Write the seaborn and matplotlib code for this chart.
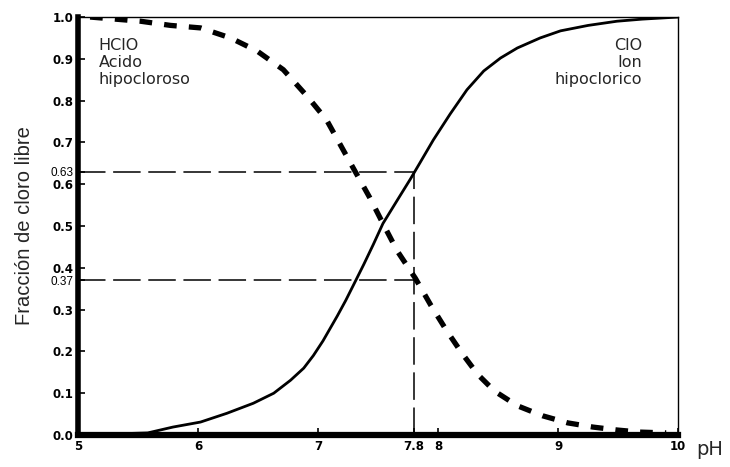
import numpy as np
import pandas as pd
import matplotlib
matplotlib.use("Agg")
import matplotlib.pyplot as plt
import seaborn as sns

# valores (pH vs fraccion de cloro libre)
# ClO- ion hipoclorico (linea continua)
ph_clo = [5.0, 5.58, 5.79, 6.02, 6.24, 6.46, 6.63, 6.77, 6.88, 6.96, 7.04, 7.1, 7.16,
          7.23, 7.3, 7.38, 7.46, 7.54, 7.66, 7.77, 7.85, 7.96, 8.1, 8.24, 8.38, 8.52,
          8.66, 8.85, 9.02, 9.25, 9.49, 9.7, 9.88, 10.0]
frac_clo = [0.0, 0.005, 0.019, 0.031, 0.052, 0.076, 0.10, 0.131, 0.16, 0.19, 0.225,
            0.255, 0.285, 0.322, 0.362, 0.408, 0.456, 0.506, 0.562, 0.613, 0.652,
            0.706, 0.768, 0.826, 0.871, 0.902, 0.926, 0.95, 0.967, 0.98, 0.99, 0.995,
            0.998, 1.0]

# HClO acido hipocloroso (linea discontinua)
ph_hclo = [5.1, 5.52, 5.77, 6.02, 6.27, 6.49, 6.71, 6.91, 7.07, 7.18, 7.29, 7.43,
           7.54, 7.66, 7.81, 7.94, 8.07, 8.2, 8.33, 8.47, 8.66, 8.87, 9.08, 9.29,
           9.49, 9.68, 9.9]
frac_hclo = [1.0, 0.99, 0.98, 0.974, 0.95, 0.919, 0.874, 0.81, 0.754, 0.697, 0.64,
             0.568, 0.506, 0.44, 0.375, 0.31, 0.25, 0.195, 0.145, 0.105, 0.07, 0.046,
             0.029, 0.019, 0.012, 0.007, 0.005]

ph_ref = 7.8
frac_ref = [0.63, 0.37]

x_ticks = [5, 6, 7, 7.8, 8, 9, 10]
x_labels = ["5", "6", "7", "7.8", "8", "9", "10"]
y_ticks = [0.0, 0.1, 0.2, 0.3, 0.37, 0.4, 0.5, 0.6, 0.63, 0.7, 0.8, 0.9, 1.0]
y_labels = ["0.0", "0.1", "0.2", "0.3", "0.37", "0.4", "0.5", "0.6", "0.63", "0.7",
            "0.8", "0.9", "1.0"]

df_clo = pd.DataFrame({"pH": ph_clo, "frac": frac_clo})
df_hclo = pd.DataFrame({"pH": ph_hclo, "frac": frac_hclo})

sns.set_style("ticks")
plt.rcParams["font.family"] = ["DejaVu Sans"]

fig = plt.figure(figsize=(7.3, 4.67), dpi=100)
ax = fig.add_axes([0.107, 0.0685, 0.822, 0.895])

# curvas
sns.lineplot(data=df_clo, x="pH", y="frac", ax=ax, color="black", linewidth=2.0)
sns.lineplot(data=df_hclo, x="pH", y="frac", ax=ax, color="black", linewidth=3.8,
             linestyle=(0, (2.4, 2.3)), dash_capstyle="butt")

# lineas de referencia en pH 7.8
for f in frac_ref:
    ax.plot([5, ph_ref], [f, f], color="black", linewidth=1.1, dashes=[18, 5])
ax.plot([ph_ref, ph_ref], [0, frac_ref[0]], color="black", linewidth=1.1, dashes=[18, 5])

ax.set_xlim(5, 10)
ax.set_ylim(0, 1.0)
ax.set_xticks(x_ticks)
ax.set_xticklabels(x_labels)
ax.set_yticks(y_ticks)
ax.set_yticklabels(y_labels)
ax.tick_params(direction="in", length=5, width=1.2, labelsize=8.5, colors="black")
for lab in ax.get_xticklabels() + ax.get_yticklabels():
    if lab.get_text() in ("0.63", "0.37"):
        lab.set_fontsize(8.5)
        lab.set_fontfamily("Liberation Sans")
    else:
        lab.set_fontweight("bold")
ax.set_xlabel("")
ax.set_ylabel("Fracción de cloro libre", fontsize=14.5, family="Liberation Sans",
              labelpad=12)

ax.spines["left"].set_linewidth(4)
ax.spines["bottom"].set_linewidth(4.5)
ax.spines["top"].set_linewidth(1.0)
ax.spines["right"].set_linewidth(1.0)
for s in ax.spines.values():
    s.set_color("black")

ax.text(10.15, -0.035, "pH", fontsize=14, ha="left", va="center")

ax.text(5.17, 0.95, "HClO\nAcido\nhipocloroso", fontsize=11.5, ha="left", va="top",
        linespacing=1.15)
ax.text(9.7, 0.95, "ClO\nIon\nhipoclorico", fontsize=11.5, ha="right", va="top",
        multialignment="right", linespacing=1.15)

fig.savefig("out.png", dpi=100)
